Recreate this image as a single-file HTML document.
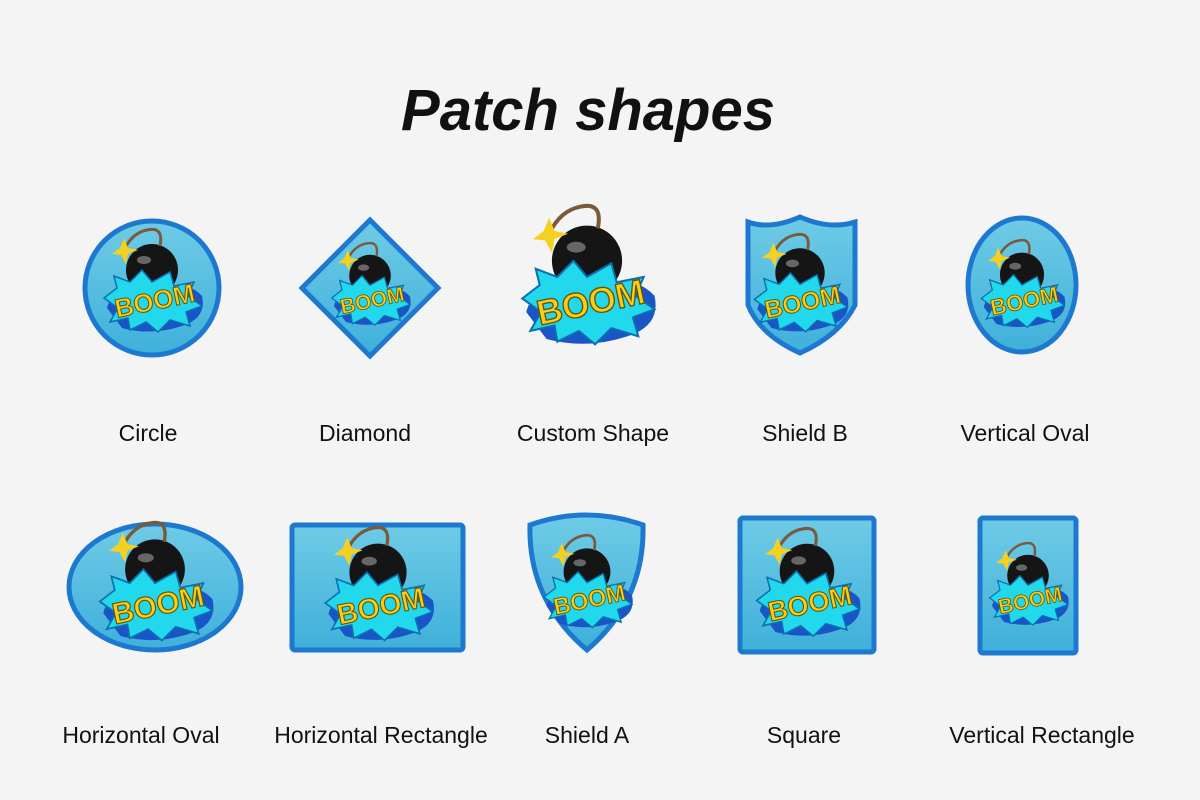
<!DOCTYPE html>
<html><head><meta charset="utf-8"><style>
html,body{margin:0;padding:0;background:#f4f4f4;}
body{width:1200px;height:800px;overflow:hidden;position:relative;font-family:"Liberation Sans",sans-serif;}
svg{position:absolute;left:0;top:0;}
</style></head><body>
<svg width="1200" height="800" viewBox="0 0 1200 800" xmlns="http://www.w3.org/2000/svg">
<defs>
<linearGradient id="pf" x1="0" y1="0" x2="0" y2="1"><stop offset="0" stop-color="#6fcbe6"/><stop offset="1" stop-color="#3fb0da"/></linearGradient>
</defs>
<rect width="1200" height="800" fill="#f4f4f4"/>
<text x="588" y="130" text-anchor="middle" font-family="Liberation Sans" font-weight="bold" font-style="italic" font-size="58" fill="#111">Patch shapes</text>

<g font-family="Liberation Sans" font-size="23" fill="#111" text-anchor="middle">
<text x="148" y="441">Circle</text>
<text x="365" y="441">Diamond</text>
<text x="593" y="441">Custom Shape</text>
<text x="805" y="441">Shield B</text>
<text x="1025" y="441">Vertical Oval</text>
<text x="141" y="743">Horizontal Oval</text>
<text x="381" y="743">Horizontal Rectangle</text>
<text x="587" y="743">Shield A</text>
<text x="804" y="743">Square</text>
<text x="1042" y="743">Vertical Rectangle</text>
</g>

<!-- patch shapes -->
<g fill="url(#pf)" stroke="#1d78d0" stroke-width="5">
<circle cx="152" cy="288" r="67"/>
<polygon points="370,220 438,288 370,356 302,288"/>
<path d="M748,222 Q770,230 800,217 Q830,230 855,222 L855,305 Q840,335 800,353 Q760,335 748,305 Z"/>
<ellipse cx="1022" cy="285" rx="54" ry="67"/>
<ellipse cx="155" cy="587" rx="86" ry="63"/>
<rect x="292" y="525" width="171" height="125" rx="3"/>
<path d="M530,525 Q586,505 643,525 Q645,600 587,650 Q528,600 530,525 Z"/>
<rect x="740" y="518" width="134" height="134" rx="3"/>
<rect x="980" y="518" width="96" height="135" rx="3"/>
</g>

<!-- art symbol instances -->
<g id="art1" transform="translate(152,288)">
<g>
<path d="M-45,20 Q-40,0 -20,8 Q-5,-5 15,2 Q35,-8 50,8 Q55,30 30,38 Q0,48 -30,40 Z" fill="#1a55c8"/>
<circle cx="0" cy="-18" r="26" fill="#151515"/>
<ellipse cx="-8" cy="-28" rx="7" ry="4" fill="#666"/>
<path d="M8,-42 Q12,-62 -5,-58 Q-20,-55 -28,-38" fill="none" stroke="#7a5a3a" stroke-width="3"/>
<polygon points="-32,-40 -28,-50 -24,-40 -14,-38 -24,-34 -26,-24 -31,-33 -40,-34" fill="#f5d020"/>
<polygon points="-48,10 -35,0 -38,-12 -22,-6 -10,-18 0,-6 18,-16 22,-2 42,-6 36,8 50,18 34,24 38,38 18,32 6,44 -6,34 -22,42 -24,30 -42,34 -34,20" fill="#22d8ec" stroke="#0b6fb0" stroke-width="1.5"/>
<text x="0" y="22" text-anchor="middle" font-family="Liberation Sans" font-weight="bold" font-size="26" fill="#f5cf1e" stroke="#6b5200" stroke-width="1" transform="rotate(-12)">BOOM</text>
</g>
</g>
</svg>
<svg width="1200" height="800" viewBox="0 0 1200 800" xmlns="http://www.w3.org/2000/svg" id="s2"></svg>
<script>
var src=document.getElementById('art1').innerHTML;
var pos=[[370,290,0.8],[587,285,1.35],[800,290,0.95],[1022,290,0.85],[155,590,1.15],[378,592,1.1],[587,588,0.9],[807,590,1.05],[1028,590,0.8]];
var out='';
pos.forEach(function(p){out+='<g transform="translate('+p[0]+','+p[1]+') scale('+p[2]+')">'+src+'</g>';});
document.getElementById('s2').innerHTML=out;
</script>
</body></html>
